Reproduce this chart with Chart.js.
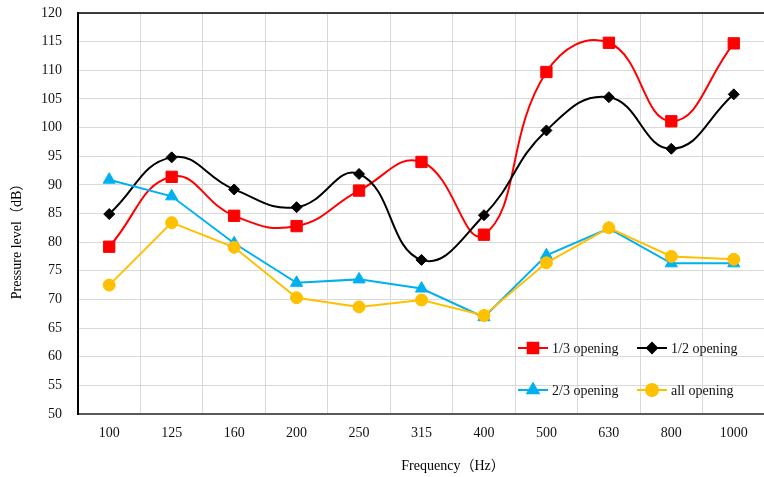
<!DOCTYPE html>
<html>
<head>
<meta charset="utf-8">
<script src="https://cdn.jsdelivr.net/npm/chart.js@4/dist/chart.umd.min.js"></script>
<style>
  html, body { margin: 0; padding: 0; background: #fff; overflow: hidden; width: 764px; height: 477px; }
  #wrap { position: absolute; left: 0; top: 0; width: 774px; height: 477px; }
</style>
</head>
<body>
<div id="wrap"><canvas id="c" width="774" height="477"></canvas></div>
<script>
const categories = ['100', '125', '160', '200', '250', '315', '400', '500', '630', '800', '1000'];
const oneThirdOpening = [79.2, 91.4, 84.6, 82.8, 89.0, 94.0, 81.3, 109.7, 114.8, 101.1, 114.7];
const halfOpening     = [84.9, 94.8, 89.2, 86.1, 91.9, 76.9, 84.7, 99.5, 105.3, 96.3, 105.8];
const twoThirdOpening = [90.9, 88.0, 79.8, 72.9, 73.5, 71.9, 66.9, 77.7, 82.4, 76.3, 76.3];
const allOpening      = [72.5, 83.4, 79.1, 70.3, 68.7, 69.9, 67.2, 76.4, 82.5, 77.5, 77.0];
const seriesNames = ['1/3 opening', '1/2 opening', '2/3 opening', 'all opening'];
const xTitle = 'Frequency（Hz）';
const yTitle = 'Pressure level（dB）';
const yMin = 50, yMax = 120, yStep = 5;

const FONT = '"Liberation Serif", "Times New Roman", "Noto Sans CJK SC", serif';

const extras = {
  id: 'extras',
  beforeDatasetsDraw(chart) {
    const { ctx, chartArea } = chart;
    ctx.save();
    ctx.strokeStyle = '#000';
    ctx.lineWidth = 1.5;
    ctx.beginPath();
    ctx.moveTo(chartArea.left, chartArea.top);
    ctx.lineTo(chartArea.right, chartArea.top);
    ctx.stroke();
    ctx.restore();
  },
  afterDraw(chart) {
    const { ctx } = chart;
    ctx.save();
    ctx.fillStyle = '#000';
    ctx.font = '14px ' + FONT;
    ctx.textAlign = 'center';
    ctx.textBaseline = 'middle';
    ctx.fillText(xTitle, 453, 466);
    ctx.save();
    ctx.translate(17, 238);
    ctx.rotate(-Math.PI / 2);
    ctx.fillText(yTitle, 0, 0);
    ctx.restore();

    // legend (2 x 2) inside plot area
    const cols = [518, 637];
    const rows = [348, 390];
    chart.data.datasets.forEach((ds, i) => {
      const x0 = cols[i % 2];
      const y0 = rows[Math.floor(i / 2)];
      ctx.strokeStyle = ds.borderColor;
      ctx.lineWidth = 2;
      ctx.beginPath();
      ctx.moveTo(x0, y0);
      ctx.lineTo(x0 + 30, y0);
      ctx.stroke();
      ctx.fillStyle = ds.pointBackgroundColor;
      ctx.strokeStyle = ds.pointBorderColor;
      Chart.helpers.drawPoint(ctx, {
        pointStyle: ds.pointStyle,
        radius: ds.legendRadius,
        rotation: 0,
        borderWidth: 1
      }, x0 + 15, y0);
      ctx.fillStyle = '#111';
      ctx.textAlign = 'left';
      ctx.textBaseline = 'middle';
      ctx.font = '14px ' + FONT;
      ctx.fillText(ds.label, x0 + 34, y0 + 1);
    });
    ctx.restore();
  }
};

function mk(label, data, color, style, radius, legendRadius, tension, order) {
  return {
    label, data,
    borderColor: color,
    backgroundColor: color,
    pointBackgroundColor: color,
    pointBorderColor: color,
    pointStyle: style,
    pointRadius: radius,
    pointHoverRadius: radius,
    pointBorderWidth: 1,
    borderWidth: 2,
    tension: tension,
    legendRadius: legendRadius,
    order: order
  };
}

new Chart(document.getElementById('c'), {
  type: 'line',
  data: {
    labels: categories,
    datasets: [
      mk(seriesNames[0], oneThirdOpening, '#FF0000', 'rect', 8, 7.5, 0.45, 3),
      mk(seriesNames[1], halfOpening, '#000000', 'rectRot', 5.5, 5, 0.45, 2),
      mk(seriesNames[2], twoThirdOpening, '#00B0F0', 'triangle', 7, 6.5, 0, 1),
      mk(seriesNames[3], allOpening, '#FFC000', 'circle', 6, 6, 0, 0)
    ]
  },
  options: {
    responsive: false,
    animation: false,
    devicePixelRatio: 1,
    layout: { padding: { top: 13, right: 0, bottom: 0, left: 0 } },
    plugins: { legend: { display: false }, tooltip: { enabled: false } },
    scales: {
      x: {
        type: 'category',
        offset: true,
        grid: { offset: true, color: '#d9d9d9', lineWidth: 1, drawTicks: false },
        border: { color: '#595959', width: 2 },
        ticks: { font: { family: FONT, size: 14 }, color: '#111', padding: 11, maxRotation: 0, autoSkip: false },
        afterFit(s) { s.height = 63; s.paddingLeft = 0; s.paddingRight = 0; }
      },
      y: {
        min: yMin, max: yMax,
        grid: { color: '#d9d9d9', lineWidth: 1, drawTicks: false },
        border: { color: '#000', width: 2 },
        ticks: { stepSize: yStep, font: { family: FONT, size: 14 }, color: '#111', padding: 16 },
        afterFit(s) { s.width = 78; s.paddingTop = 0; s.paddingBottom = 0; }
      }
    }
  },
  plugins: [extras]
});
</script>
</body>
</html>
